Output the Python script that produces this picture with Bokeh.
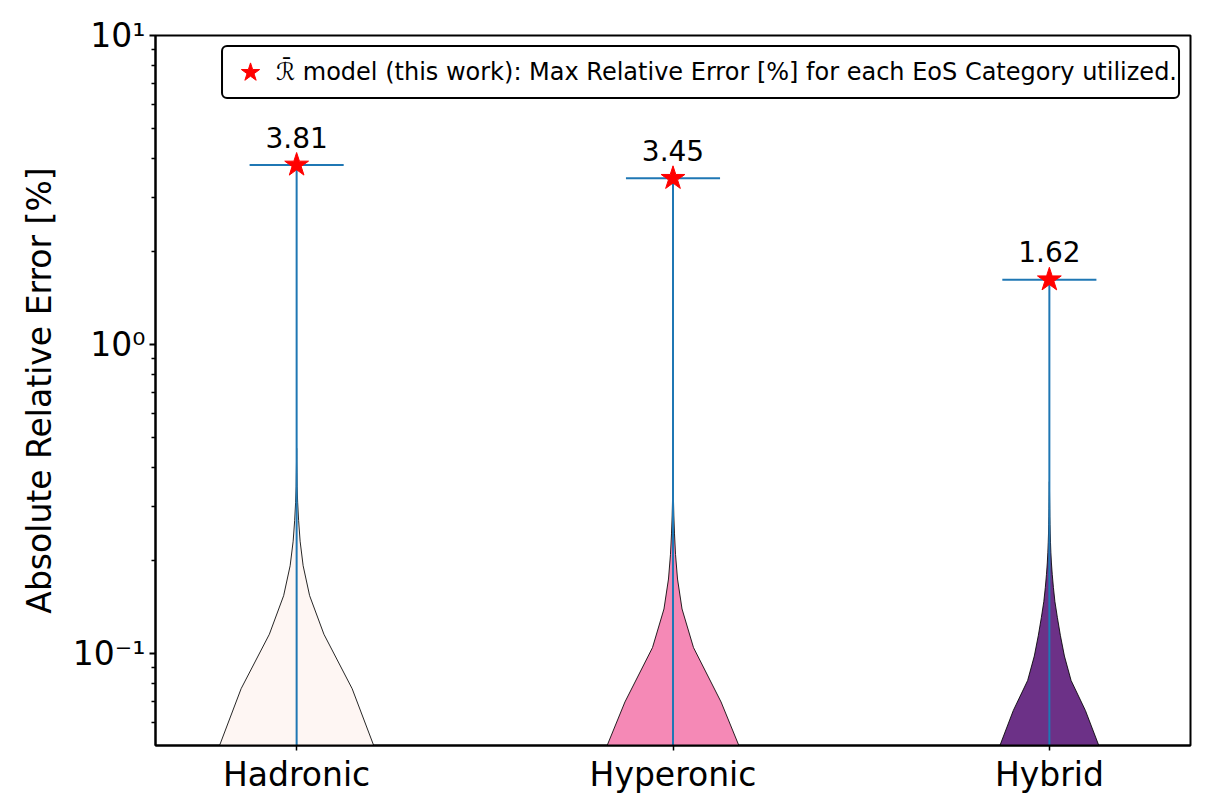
import numpy as np
from bokeh.plotting import figure
from bokeh.models import (Range1d, FixedTicker, CustomJSTickFormatter, Legend,
                          LegendItem, ColumnDataSource)
from bokeh.embed import file_html
from bokeh.resources import INLINE
from bokeh.core.properties import value

# ---------------- data ----------------
categories = ["Hadronic", "Hyperonic", "Hybrid"]
positions = [1, 2, 3]
max_errors = [3.81, 3.45, 1.62]
min_errors = [0.001, 0.001, 0.001]
fill_colors = ["#fef6f3", "#f589b6", "#6c3187"]

# normalised violin density (max = 1), at evenly spaced
# points from 0 up to the category maximum (100 points over [0, max])
dens_hadronic = [1.0, 0.965, 0.59, 0.29, 0.138, 0.069, 0.037, 0.021, 0.011,
                 0.005, 0.003, 0.001]
dens_hyperonic = [1.0, 0.915, 0.511, 0.218, 0.096, 0.048, 0.027, 0.016, 0.009,
                  0.005, 0.002, 0.001]
dens_hybrid = [1.0, 0.86, 0.70, 0.54, 0.383, 0.231, 0.16, 0.117, 0.085, 0.059,
               0.043, 0.031, 0.022, 0.016, 0.012, 0.009, 0.007, 0.005, 0.004,
               0.003, 0.002, 0.001]
densities = [dens_hadronic, dens_hyperonic, dens_hybrid]
n_grid = 100

legend_label = ("\u211b\u0304 model (this work): Max Relative Error [%] "
                "for each EoS Category utilized.")
ylabel = "Absolute Relative Error [%]"

FONT = "DejaVu Sans"
VIOLIN_HALF = 0.25
CAP_HALF = 0.125
BLUE = "#1f77b4"

# ---------------- figure ----------------
p = figure(width=1205, height=805, y_axis_type="log",
           x_range=Range1d(0.625, 3.375), y_range=Range1d(0.0504, 10),
           output_backend="svg", toolbar_location=None,
           min_border_left=155, min_border_right=15,
           min_border_top=35, min_border_bottom=60)
p.background_fill_color = "white"
p.border_fill_color = "white"
p.outline_line_color = "black"
p.outline_line_width = 2
p.xgrid.visible = False
p.ygrid.visible = False

# violins
for pos, mx, dens, col in zip(positions, max_errors, densities, fill_colors):
    step = mx / (n_grid - 1)
    ys = [k * step for k in range(1, len(dens))]
    ws = [VIOLIN_HALF * d for d in dens[1:]]
    top = len(dens) * step
    xs = [pos - w for w in ws] + [pos] + [pos + w for w in ws[::-1]]
    yy = ys + [top] + ys[::-1]
    p.patch(xs, yy, fill_color=col, line_color="black", line_width=1,
            line_alpha=0.85)

# vertical bars and max caps
p.segment(x0=positions, y0=min_errors, x1=positions, y1=max_errors,
          line_color=BLUE, line_width=2)
p.segment(x0=[x - CAP_HALF for x in positions], y0=max_errors,
          x1=[x + CAP_HALF for x in positions], y1=max_errors,
          line_color=BLUE, line_width=2)

# stars
src = ColumnDataSource(dict(x=positions, y=max_errors,
                            lab=[f"{v:.2f}" for v in max_errors]))
stars = p.scatter("x", "y", source=src, marker="star", size=25,
                  fill_color="red", line_color="red")
p.text("x", "y", text="lab", source=src, text_align="center",
       text_baseline="alphabetic", y_offset=-28, text_font_size="28px",
       text_font=value(FONT), text_color="black")

# ---------------- axes ----------------
yax = p.yaxis[0]
minor = [m * 10.0 ** e for e in (-2, -1, 0) for m in range(2, 10)]
yax.ticker = FixedTicker(ticks=[0.1, 1, 10], minor_ticks=minor)
yax.formatter = CustomJSTickFormatter(code="""
const e = Math.round(Math.log10(tick));
const sup = {'-':'\u207b','0':'\u2070','1':'\u00b9','2':'\u00b2','3':'\u00b3'};
return '10' + String(e).split('').map(c => sup[c]).join('');
""")
yax.axis_label = ylabel
yax.axis_label_text_font = FONT
yax.axis_label_text_font_size = "33px"
yax.axis_label_text_font_style = "normal"
yax.axis_label_text_color = "black"
yax.axis_label_standoff = 11
yax.major_label_text_font = FONT
yax.major_label_text_font_size = "33px"
yax.major_label_text_color = "black"
yax.major_label_standoff = 4
yax.axis_line_width = 2
yax.major_tick_line_width = 2
yax.minor_tick_line_width = 1.5
yax.major_tick_in = 0
yax.major_tick_out = 6
yax.minor_tick_in = 0
yax.minor_tick_out = 4

xax = p.xaxis[0]
xax.ticker = FixedTicker(ticks=positions, minor_ticks=[])
xax.formatter = CustomJSTickFormatter(args=dict(labels=categories), code="""
const i = Math.round(tick) - 1;
return (i >= 0 && i < labels.length) ? labels[i] : '';
""")
xax.major_label_text_font = FONT
xax.major_label_text_font_size = "33px"
xax.major_label_text_color = "black"
xax.major_label_standoff = 4
xax.axis_line_width = 2
xax.major_tick_line_width = 1.5
xax.major_tick_in = 0
xax.major_tick_out = 5
xax.minor_tick_line_color = None

# ---------------- legend ----------------
legend = Legend(items=[LegendItem(label=legend_label, renderers=[stars])],
                location="top_right")
legend.margin = 10
legend.padding = 1
legend.glyph_width = 52
legend.glyph_height = 48
legend.label_standoff = 0
legend.label_text_font = FONT
legend.label_text_font_size = "24px"
legend.label_text_color = "black"
legend.label_text_baseline = "middle"
legend.border_line_color = "black"
legend.border_line_width = 2
legend.border_line_alpha = 1
legend.background_fill_color = "white"
legend.background_fill_alpha = 1
if "border_radius" in Legend.properties():
    legend.border_radius = 6
p.add_layout(legend)

open("out.html", "w").write(file_html(p, INLINE))
